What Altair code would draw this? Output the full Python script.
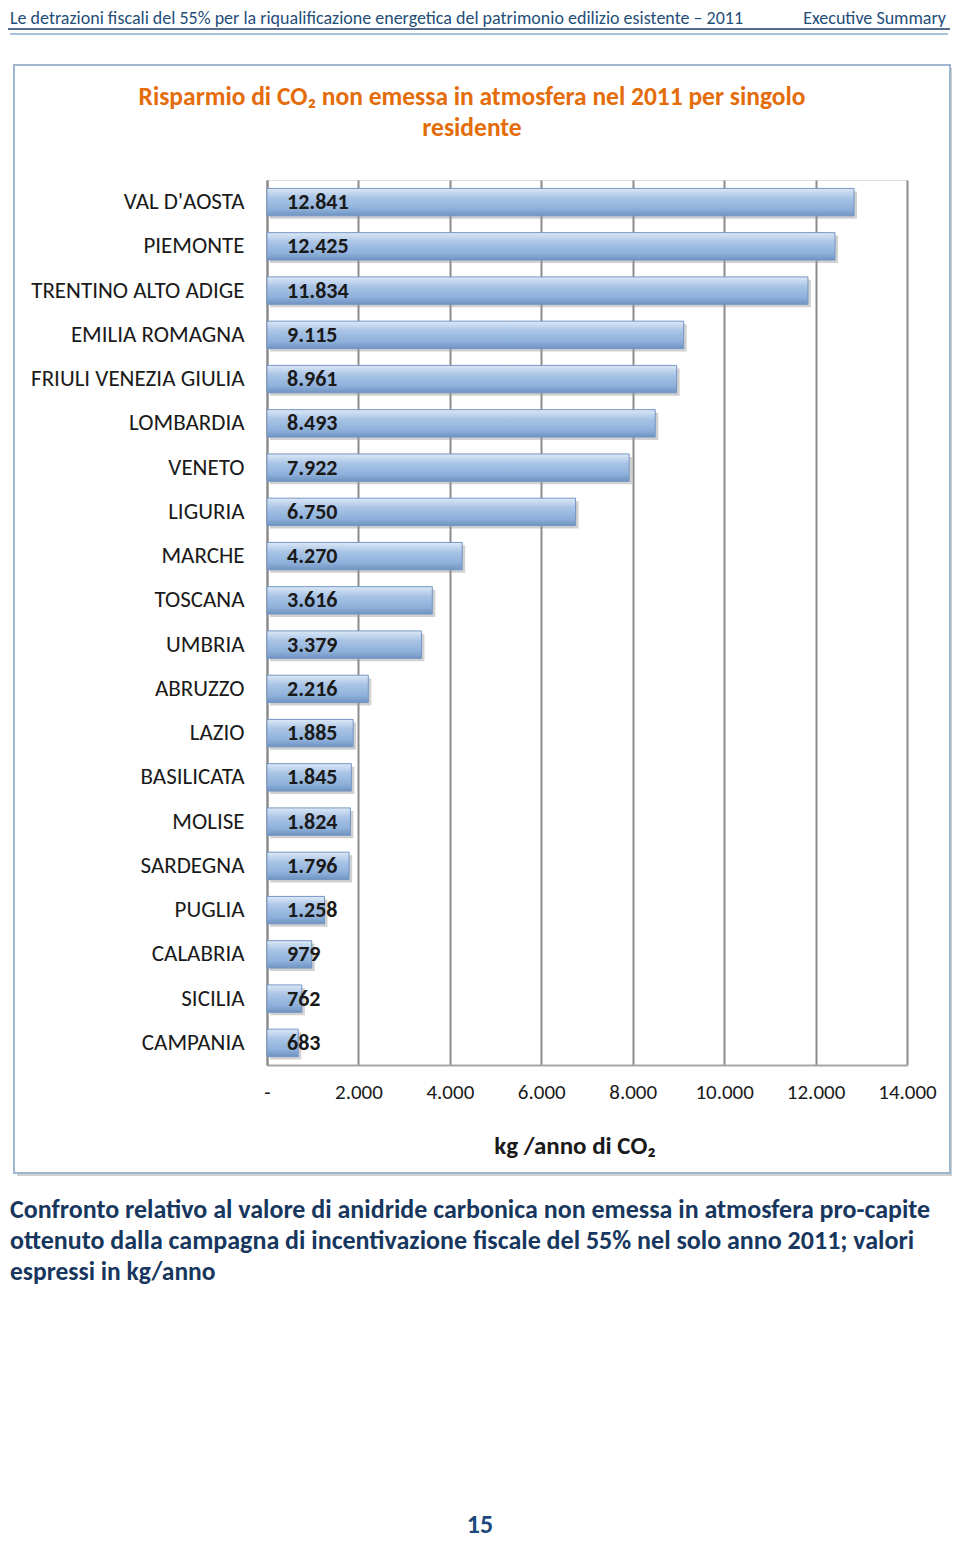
import altair as alt
import pandas as pd

regions = ["VAL D'AOSTA", "PIEMONTE", "TRENTINO ALTO ADIGE", "EMILIA ROMAGNA",
           "FRIULI VENEZIA GIULIA", "LOMBARDIA", "VENETO", "LIGURIA", "MARCHE",
           "TOSCANA", "UMBRIA", "ABRUZZO", "LAZIO", "BASILICATA", "MOLISE",
           "SARDEGNA", "PUGLIA", "CALABRIA", "SICILIA", "CAMPANIA"]
values = [12841, 12425, 11834, 9115, 8961, 8493, 7922, 6750, 4270, 3616,
          3379, 2216, 1885, 1845, 1824, 1796, 1258, 979, 762, 683]
x_ticks = [0, 2000, 4000, 6000, 8000, 10000, 12000, 14000]

header_left = "Le detrazioni fiscali del 55% per la riqualificazione energetica del patrimonio edilizio esistente – 2011"
header_right = "Executive Summary"
title_lines = ["Risparmio di CO₂ non emessa in atmosfera nel 2011 per singolo", "residente"]
x_title = "kg /anno di CO₂"
caption_lines = [
    "Confronto relativo al valore di anidride carbonica non emessa in atmosfera pro-capite",
    "ottenuto dalla campagna di incentivazione fiscale del 55% nel solo anno 2011; valori",
    "espressi in kg/anno",
]
page_number = "15"

FONT = "Carlito, Lato, Open Sans, sans-serif"

df = pd.DataFrame({"region": regions, "value": values})
df["label"] = [f"{v:,}".replace(",", ".") for v in values]

x_enc = alt.X("value:Q", scale=alt.Scale(domain=[0, 14000], nice=False),
              axis=alt.Axis(values=x_ticks, grid=True, gridColor="#8c8c8c", gridWidth=2,
                            domainColor="#a6a6a6", domainWidth=2, ticks=False, labelFlush=False,
                            labelPadding=16, labelFontSize=21, labelFont=FONT,
                            labelColor="#1a1a1a", title=None,
                            labelExpr="datum.value == 0 ? '-' : replace(format(datum.value, ','), ',', '.')"))
y_enc = alt.Y("region:N", sort=regions,
              scale=alt.Scale(paddingInner=0.38, paddingOuter=0.19),
              axis=alt.Axis(title=None, labelFontSize=23, labelFont=FONT, labelColor="#1a1a1a",
                            labelLimit=0, labelPadding=23, ticks=False,
                            domainColor="#8c8c8c", domainWidth=2))

base = alt.Chart(df)

shadow = base.mark_bar(color="#9a9a9a", opacity=0.45, xOffset=3, yOffset=3).encode(x=x_enc, y=y_enc)

bars = base.mark_bar(
    color=alt.Gradient(gradient="linear", x1=0, x2=0, y1=0, y2=1,
                       stops=[alt.GradientStop(color="#dce8f6", offset=0),
                              alt.GradientStop(color="#a9c4e6", offset=0.35),
                              alt.GradientStop(color="#8eb0da", offset=0.75),
                              alt.GradientStop(color="#6f93c2", offset=1)]),
    stroke="#7596c4", strokeWidth=1,
).encode(x=x_enc, y=y_enc)

labels = base.mark_text(align="left", baseline="middle", dx=20, fontSize=22,
                        fontWeight="bold", font=FONT, color="#1a1a1a").encode(
    x=alt.datum(0), y=alt.Y("region:N", sort=regions), text="label:N")


def note(text, x, y, size, color, weight="normal", align="left"):
    return alt.Chart(alt.Data(values=[{}])).mark_text(
        align=align, baseline="middle", fontSize=size, fontWeight=weight,
        font=FONT, color=color).encode(x=alt.value(x), y=alt.value(y), text=alt.value(text))


def rule(x, x2, y, color, width):
    return alt.Chart(alt.Data(values=[{}])).mark_rule(color=color, strokeWidth=width).encode(
        x=alt.value(x), x2=alt.value(x2), y=alt.value(y))


frame = alt.Chart(alt.Data(values=[{}])).mark_rect(fillOpacity=0, stroke="#9fb6d1", strokeWidth=2).encode(
    x=alt.value(-253), x2=alt.value(683), y=alt.value(-115), y2=alt.value(993))
frame_shadow_r = alt.Chart(alt.Data(values=[{}])).mark_rule(color="#d0d0d0", strokeWidth=2).encode(
    x=alt.value(685), y=alt.value(-112), y2=alt.value(995))
frame_shadow_b = rule(-250, 685, 995, "#d0d0d0", 2)

layers = [
    frame_shadow_r, frame_shadow_b, frame,
    rule(-259, 683, -151, "#1f3864", 1.5),
    rule(-257, 681, -146, "#a7c0dc", 2),
    note(header_left, -257, -161, 18, "#1f4e79"),
    note(header_right, 679, -161, 18, "#1f4e79", align="right"),
    note(title_lines[0], 205, -83, 25.5, "#e46c0a", "bold", "center"),
    note(title_lines[1], 205, -52, 25.5, "#e46c0a", "bold", "center"),
    shadow, bars, labels,
    note(x_title, 308, 966, 25, "#1a1a1a", "bold", "center"),
    note(caption_lines[0], -257, 1030, 26, "#17375e", "bold"),
    note(caption_lines[1], -257, 1061, 26, "#17375e", "bold"),
    note(caption_lines[2], -257, 1092, 25.5, "#17375e", "bold"),
    note(page_number, 213, 1345, 26, "#1f497d", "bold", "center"),
]

chart = alt.layer(*layers).properties(
    width=640, height=885,
    padding={"left": 259, "top": 172, "right": 45, "bottom": 474},
    autosize=alt.AutoSizeParams(type="none"),
).configure_view(stroke=None).configure(background="white")

chart.save("out.html", embed_options={"renderer": "svg", "actions": False})
